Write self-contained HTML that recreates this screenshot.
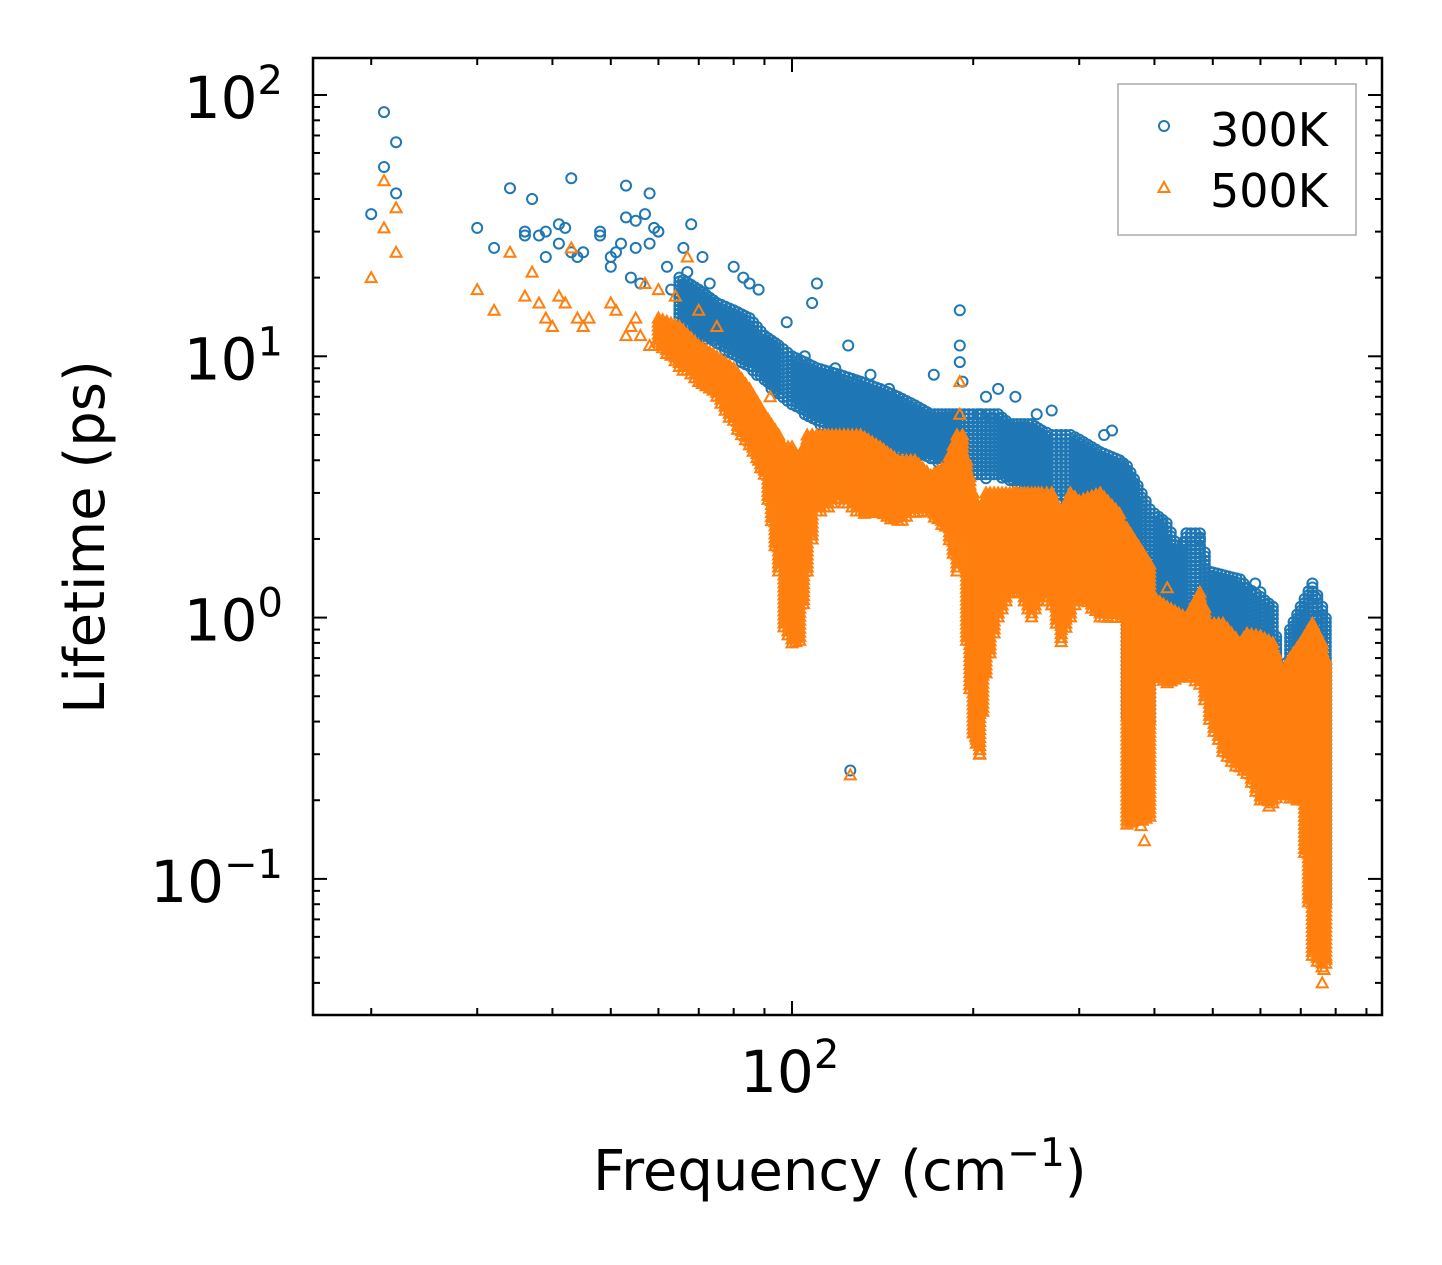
<!DOCTYPE html>
<html><head><meta charset="utf-8"><style>
body{margin:0;background:#fff}
svg{display:block;font-family:"DejaVu Sans","Liberation Sans",sans-serif}
</style></head><body>
<svg id="chart" width="1442" height="1265" viewBox="0 0 1442 1265" xmlns="http://www.w3.org/2000/svg">
<rect width="1442" height="1265" fill="#fff"/>
<g id="pts300"></g>
<g id="pts500"></g>
<g id="axes"></g>
<rect x="313" y="58" width="1069" height="957" fill="none" stroke="#000" stroke-width="2.5"/>
<g>
<rect x="1118" y="84" width="238" height="151" fill="#fff" fill-opacity="0.8" stroke="#aaa" stroke-width="1.5"/>
<circle cx="1164" cy="126" r="5" fill="none" stroke="#1f77b4" stroke-width="2"/>
<text x="1210" y="146" font-size="46">300K</text>
<path d="M1164,182 L1169.5,192 L1158.5,192 Z" fill="none" stroke="#ff7f0e" stroke-width="2"/>
<text x="1210" y="207" font-size="46">500K</text>
</g>
<text transform="translate(104,537) rotate(-90)" text-anchor="middle" font-size="56">Lifetime (ps)</text>
<text x="593" y="1190" font-size="56">Frequency (cm<tspan dy="-24" font-size="39">−1</tspan><tspan dy="24">)</tspan></text>
</svg>
<script>
// scatter points (frequency cm^-1, lifetime ps)
const freq300 = [20,21,21,22,22,30,32,34,36,36,37,38,39,39,41,41,42,43,43,44,45,48,48,50,50,51,52,53,53,54,55,55,56,57,58,58,59,60,62,63,66,67,68,71,73,75,80,83,85,88,92,98,105,108,110,118,124,125,128,135,145,172,190,190,190,192,205,210,215,220,235,255,270,330,340,345,375,370,452,476,588,600,740,745,650,760,760];
const life300 = [35,86,53,66,42,31,26,44,29,30,40,29,30,24,32,27,31,48,25,24,25,30,29,24,22,25,27,45,34,20,26,33,19,35,27,42,31,30,22,18,26,21,32,24,19,15,22,20,19,18,11,13.5,10,16,19,9,11,0.26,8,8.5,7.5,8.5,15,11,9.5,8,6,7,5.8,7.5,7,6,6.2,5,5.2,3.5,0.35,0.5,2.1,2.0,1.35,1.25,1.2,1.0,0.3,0.1,0.08];
const freq500 = [20,21,21,22,22,30,32,34,36,37,38,39,40,41,42,43,44,45,46,50,51,53,54,55,56,57,58,59,60,62,64,67,70,75,80,88,92,96,102,108,122,125,145,160,190,190,202,205,235,300,340,370,380,385,420,500,560,620,740,760,765,770];
const life500 = [20,47,31,37,25,18,15,25,17,21,16,14,13,17,16,26,14,13,14,16,15,12,13,14,12,19,11,11,18,13,17,24,15,13,8,4,7,2,0.85,5,5,0.25,3,3.5,8,6,0.35,0.3,3,2.5,2.5,0.2,0.16,0.14,1.3,0.47,0.3,0.19,0.9,0.04,0.045,0.05];
// dense bands: frequency, lower and upper lifetime
const band300F = [65,70,75,80,85,90,95,100,105,110,120,130,140,150,160,170,180,190,200,210,220,230,240,250,260,270,280,290,300,325,350,355,360,375,393,400,419,440,452,476,494,555,570,600,629,654,672,700,732,760,781];
const band300Lo = [14,12,11,10,9,8,7,6.5,6,5.5,5,4.8,4.5,4.3,4.2,4,3.8,3.5,3.5,3.4,3.5,3.3,3.2,3.2,3,3,2.8,2.8,2.7,2.6,2.4,2.5,0.4,0.35,0.4,0.8,0.8,0.8,0.9,0.9,0.7,0.5,0.5,0.35,0.3,0.28,0.4,0.4,0.1,0.06,0.1];
const band300Hi = [20,18,16,15,14,12,11,10,9.5,9,8.5,8,7.5,7,6.5,6,6,6,6,6,6,5.5,5.5,5.5,5.2,5,5,5,4.8,4.3,4,3.9,3.8,3.2,2.6,2.5,2.3,1.8,2.1,2.1,1.5,1.4,1.3,1.2,1.1,0.5,0.9,1.1,1.35,1.1,0.9];
const band500F = [60,65,70,75,80,85,90,95,97,100,103,106,110,120,130,140,150,160,170,180,188,192,195,200,205,210,220,230,240,250,260,270,280,290,300,325,350,355,360,393,397,420,452,476,494,520,555,570,600,629,654,672,700,732,760,781];
const band500Lo = [11,9,8,7,5.5,4.5,3.5,1.5,0.9,0.8,0.8,1.5,2.5,2.8,2.5,2.5,2.3,2.5,2.5,2.2,1.5,2,0.8,0.35,0.3,0.6,1,1.2,1.2,1,1.2,1.1,0.8,1,1.2,1,1,1,0.16,0.17,0.6,0.55,0.6,0.55,0.4,0.3,0.26,0.25,0.2,0.19,0.22,0.2,0.2,0.05,0.045,0.05];
const band500Hi = [14,13,11,10,9,7.5,6,5,4.5,4.5,4,5,5,5,5,4.5,4,4,3.5,3.8,5,5,4,3,2.5,3,3,3,3,3,3,3,2.5,3,2.8,3,2.5,2,2.2,1.6,1.2,1.1,1.0,1.25,0.95,0.95,0.8,0.87,0.85,0.8,0.6,0.7,0.8,0.95,0.8,0.6];
const yTickVals = [0.1,1,10,100];
const yTickLabels = ["−1","0","1","2"];

const NS="http://www.w3.org/2000/svg";
const X=f=>792+602*(Math.log10(f)-2);
const Y=v=>95+261.3*(2-Math.log10(v));
const B="#1f77b4",O="#ff7f0e";
const g3=document.getElementById('pts300'), g5=document.getElementById('pts500'), ax=document.getElementById('axes');
function circ(g,x,y){const c=document.createElementNS(NS,'circle');


c.setAttribute('cx',x.toFixed(1));c.setAttribute('cy',y.toFixed(1));c.setAttribute('r',5);c.setAttribute('fill','none');c.setAttribute('stroke',B);c.setAttribute('stroke-width',2);g.appendChild(c);}
function tri(g,x,y){const p=document.createElementNS(NS,'path');


p.setAttribute('d',`M${x.toFixed(1)},${(y-5.5).toFixed(1)} l5.5,10 l-11,0 Z`);p.setAttribute('fill','none');p.setAttribute('stroke',O);p.setAttribute('stroke-width',2);g.appendChild(p);}
function band(g,F,Lo,Hi,fn){
  for(let i=0;i<F.length-1;i++){
    const x0=X(F[i]),x1=X(F[i+1]);const n=Math.max(1,Math.round((x1-x0)/4));
    for(let k=0;k<n;k++){const t=k/n;const x=x0+(x1-x0)*t;
      const ylo=Y(Lo[i])+(Y(Lo[i+1])-Y(Lo[i]))*t, yhi=Y(Hi[i])+(Y(Hi[i+1])-Y(Hi[i]))*t;
      for(let y=yhi;y<=ylo;y+=4) fn(g,x,y);}
  }
}
band(g3,band300F,band300Lo,band300Hi,circ);
freq300.forEach((f,i)=>circ(g3,X(f),Y(life300[i])));
band(g5,band500F,band500Lo,band500Hi,tri);
freq500.forEach((f,i)=>tri(g5,X(f),Y(life500[i])));

function line(x1,y1,x2,y2,name){const l=document.createElementNS(NS,'line');


l.setAttribute('x1',x1);l.setAttribute('y1',y1);l.setAttribute('x2',x2);l.setAttribute('y2',y2);l.setAttribute('stroke','#000');l.setAttribute('stroke-width',2);ax.appendChild(l);}
// y ticks
for(let e=-2;e<=2;e++){for(let m=1;m<10;m++){const v=m*Math.pow(10,e);const y=Y(v);if(y<58||y>1015)continue;const L=m===1?14:7;
line(313,y,313+L,y,'y-tick');line(1382,y,1382-L,y,'y-tick');}}
yTickVals.forEach((v,i)=>{const t=document.createElementNS(NS,'text');


t.setAttribute('x',283);t.setAttribute('y',Y(v)+23);t.setAttribute('text-anchor','end');t.setAttribute('font-size','58');
t.innerHTML='10<tspan dy="-24" font-size="40">'+yTickLabels[i]+'</tspan>';ax.appendChild(t);});
// x ticks
for(let e=1;e<=2;e++){for(let m=1;m<10;m++){const f=m*Math.pow(10,e);const x=X(f);if(x<313||x>1382)continue;const L=m===1&&e===2?14:7;
line(x,1015,x,1015-L,'x-tick');line(x,58,x,58+L,'x-tick');}}
const xt=document.createElementNS(NS,'text');


xt.setAttribute('x',740);xt.setAttribute('y',1092);xt.setAttribute('font-size','58');xt.innerHTML='10<tspan dy="-24" font-size="40">2</tspan>';ax.appendChild(xt);
</script>
</body></html>
